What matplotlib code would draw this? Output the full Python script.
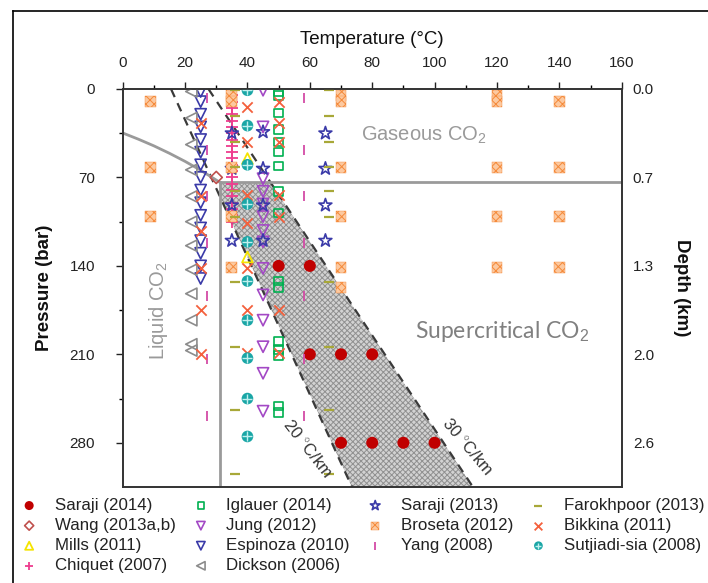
import numpy as np
import matplotlib.pyplot as plt
from matplotlib.patches import Polygon
from matplotlib.lines import Line2D
from matplotlib.legend_handler import HandlerTuple

plt.rcParams['font.family'] = ['Liberation Sans', 'DejaVu Sans']
plt.rcParams['mathtext.fontset'] = 'custom'
plt.rcParams['mathtext.rm'] = 'Liberation Sans'
plt.rcParams['hatch.linewidth'] = 0.7

# CO2 phase boundaries (temperature degC, pressure bar)
sat_T = [0, 5, 10, 15, 20, 25, 31.1]
sat_P = [34.8, 39.7, 45.0, 50.9, 57.3, 64.3, 73.8]
crit_T, crit_P = 31.1, 73.8

# geothermal gradients
grad20_T = [15.5, 73.5]
grad20_P = [0, 315]
grad30_T = [27.5, 112.3]
grad30_P = [0, 315]

# measurements
saraji14_T = [50, 60, 60, 70, 80, 70, 80, 90, 100]
saraji14_P = [140, 140, 210, 210, 210, 280, 280, 280, 280]

wang_T = [30]
wang_P = [70]

mills_T = [40, 40]
mills_P = [55, 133]

chiquet_P = [5, 10, 15, 20, 25, 30, 35, 40, 45, 50, 55, 60, 65, 70, 75, 80, 85, 90, 95, 100, 105]
chiquet_T = [35] * len(chiquet_P)

iglauer_P = [2, 5, 19, 32, 42, 50, 61, 81, 98, 152, 157, 200, 206, 211, 251, 256]
iglauer_T = [50] * len(iglauer_P)

jung_P = [1, 30, 71, 81, 91, 101, 112, 121, 142, 163, 183, 204, 225, 255]
jung_T = [45] * len(jung_P)

espinoza_P = [2, 10, 20, 30, 40, 50, 60, 70, 80, 90, 100, 110, 120, 130, 140, 150]
espinoza_T = [25] * len(espinoza_P)

dickson_P = [2, 23, 44, 64, 85, 105, 124, 143, 162, 183, 202, 207]
dickson_T = [22] * len(dickson_P)

saraji13_T = [35, 35, 35, 35, 45, 45, 45, 45, 65, 65, 65, 65]
saraji13_P = [35, 63, 92, 120, 34, 63, 92, 120, 35, 63, 92, 120]

broseta_T = [9, 9, 9, 35, 35, 35, 35, 35, 70, 70, 70, 70, 70, 70,
             120, 120, 120, 120, 120, 140, 140, 140, 140]
broseta_P = [10, 62, 101, 5, 10, 62, 101, 141, 5, 10, 62, 101, 141, 157,
             5, 10, 62, 101, 141, 10, 62, 101, 141]

yang_T = [27, 27, 27, 27, 27, 27, 27, 58, 58, 58, 58, 58, 58, 58]
yang_P = [7, 48, 85, 122, 164, 214, 259, 7, 48, 85, 122, 164, 214, 259]

farokh_T = [36] * 10 + [66] * 10
farokh_P = [1, 21, 42, 62, 81, 101, 153, 204, 254, 305] * 2

bikkina_T = [25, 25, 25, 25, 25, 25, 40, 40, 40, 40, 40, 40, 40, 50, 50, 50, 50, 50, 50, 50]
bikkina_P = [27, 85, 112, 142, 175, 210, 14, 42, 84, 106, 142, 175, 209, 10, 27, 42, 84, 101, 175, 209]

sutji_P = [1, 29, 60, 91, 121, 152, 183, 213, 245, 275]
sutji_T = [40] * len(sutji_P)

W, H = 708, 583
fig = plt.figure(figsize=(W / 100, H / 100), dpi=100)
ax = fig.add_axes([122.7 / W, 1 - 487 / H, (621.7 - 122.7) / W, (487 - 89) / H])
ax.set_xlim(0, 160)
ax.set_ylim(315, 0)

# shaded region between gradients in supercritical field
p_bot = 315
t2_top = np.interp(crit_P, grad30_P, grad30_T)
t2_bot = np.interp(p_bot, grad30_P, grad30_T)
t1_bot = np.interp(p_bot, grad20_P, grad20_T)
p1_cross = np.interp(crit_T, grad20_T, grad20_P)
poly = Polygon([(crit_T, crit_P), (t2_top, crit_P), (t2_bot, p_bot), (t1_bot, p_bot), (crit_T, p1_cross)],
               closed=True, facecolor='#d2d2d2', edgecolor='#909090', hatch='xxxxxx', lw=0, zorder=1)
ax.add_patch(poly)

ax.plot(grad20_T, grad20_P, color='#3a3a3a', lw=1.6, ls=(0, (4, 3)), zorder=2)
ax.plot(grad30_T, grad30_P, color='#3a3a3a', lw=1.6, ls=(0, (4, 3)), zorder=2)

gray = '#9a9a9a'
ax.plot(sat_T, sat_P, color=gray, lw=2, zorder=2)
ax.plot([crit_T, 160], [crit_P, crit_P], color=gray, lw=2, zorder=2)
ax.plot([crit_T, crit_T], [crit_P, 315], color=gray, lw=2, zorder=2)

handles = []
labels = []


def add(T, P, label, **kw):
    h = ax.scatter(T, P, zorder=3, **kw)
    handles.append(h)
    labels.append(label)
    return h


add(saraji14_T, saraji14_P, 'Saraji (2014)', marker='o', s=75, color='#c00000', edgecolors='none')
add(wang_T, wang_P, 'Wang (2013a,b)', marker='D', s=38, facecolors='none', edgecolors='#c0504d', linewidths=1.2)
add(mills_T, mills_P, 'Mills (2011)', marker='^', s=60, facecolors='none', edgecolors='#f5e400', linewidths=1.3)
add(chiquet_T, chiquet_P, 'Chiquet (2007)', marker='+', s=70, color='#ee3d8f', linewidths=1.3)
add(iglauer_T, iglauer_P, 'Iglauer (2014)', marker='s', s=38, facecolors='none', edgecolors='#00b050', linewidths=1.2)
add(jung_T, jung_P, 'Jung (2012)', marker='v', s=65, facecolors='none', edgecolors='#a349c5', linewidths=1.2)
add(espinoza_T, espinoza_P, 'Espinoza (2010)', marker='v', s=65, facecolors='none', edgecolors='#3a3aa8', linewidths=1.2)
add(dickson_T, dickson_P, 'Dickson (2006)', marker='<', s=65, facecolors='none', edgecolors='#8c8c8c', linewidths=1.2)
add(saraji13_T, saraji13_P, 'Saraji (2013)', marker='*', s=95, facecolors='none', edgecolors='#3a3aa8', linewidths=1.2)
add(broseta_T, broseta_P, 'Broseta (2012)', marker='s', s=60, facecolors='#fcc9a0', edgecolors='#f58a3a',
    hatch='xxxx', linewidths=0.3)
add(yang_T, yang_P, 'Yang (2008)', marker='|', s=60, color='#d34ba6', linewidths=1.3)
add(farokh_T, farokh_P, 'Farokhpoor (2013)', marker='_', s=60, color='#a8a838', linewidths=1.6)
add(bikkina_T, bikkina_P, 'Bikkina (2011)', marker='x', s=55, color='#f4603c', linewidths=1.3)
s1 = ax.scatter(sutji_T, sutji_P, marker='o', s=70, color='#1aa6a6', edgecolors='none', zorder=3)
s2 = ax.scatter(sutji_T, sutji_P, marker='+', s=45, color='#bff0ee', linewidths=1.0, zorder=3)
handles.append((s1, s2))
labels.append('Sutjiadi-sia (2008)')

# axes styling
ax.xaxis.tick_top()
ax.xaxis.set_label_position('top')
ax.set_xticks(np.arange(0, 161, 20))
ax.set_xticks(np.arange(10, 160, 20), minor=True)
ax.set_yticks([0, 70, 140, 210, 280])
ax.set_yticks([35, 105, 175, 245], minor=True)
ax.tick_params(which='major', length=5, width=1, labelsize=11, colors='#222222')
ax.tick_params(which='minor', length=3, width=1)
ax.tick_params(axis='x', pad=9)
ax.tick_params(axis='y', which='major', length=5, pad=15)
for sp in ax.spines.values():
    sp.set_linewidth(1.2)
    sp.set_color('#333333')
ax.set_xlabel('Temperature (°C)', fontsize=13.5, labelpad=8, color='#111111')
ax.set_ylabel('Pressure (bar)', fontsize=13.5, labelpad=12, fontweight='bold', color='#111111')

ax2 = ax.twinx()
ax2.set_ylim(315, 0)
ax2.set_yticks([0, 70, 140, 210, 280])
ax2.set_yticklabels(['0.0', '0.7', '1.3', '2.0', '2.6'])
ax2.tick_params(length=0, labelsize=11, pad=8, colors='#222222')
for sp in ax2.spines.values():
    sp.set_linewidth(1.2)
    sp.set_color('#333333')
ax2.set_ylabel('Depth (km)', fontsize=13.5, rotation=270, labelpad=26, fontweight='bold', color='#111111')

# region labels
ax.text(96.5, 37, 'Gaseous CO$_2$', fontsize=14.5, color='#9a9a9a', ha='center', va='center')
ax.text(121.5, 192, 'Supercritical CO$_2$', fontsize=16.5, color='#808080', ha='center', va='center',
        family='Lato')
ax.text(11.5, 175, 'Liquid CO$_2$', fontsize=14.5, color='#9a9a9a', rotation=90, ha='center', va='center')
ax.text(59, 285, '20 $^{\\circ}$C/km', fontsize=12, color='#333333', rotation=-52, ha='center', va='center')
ax.text(110.5, 283, '30 $^{\\circ}$C/km', fontsize=12, color='#333333', rotation=-50, ha='center', va='center')

# frame round the picture
fig.add_artist(Line2D([13 / W, 13 / W], [0, 1 - 11 / H], color='black', lw=1.2))
fig.add_artist(Line2D([13 / W, 1], [1 - 11 / H, 1 - 11 / H], color='black', lw=1.2))

fig.legend(handles, labels, ncol=4, loc='upper left', bbox_to_anchor=(19 / W, 1 - 498 / H),
           frameon=False, fontsize=12.2, handlelength=1.2, handletextpad=0.9, columnspacing=0.9,
           labelspacing=0.3, markerscale=0.75, borderaxespad=0, borderpad=0,
           handler_map={tuple: HandlerTuple(ndivide=1)}, labelcolor='#222222')

fig.savefig('out.png', dpi=100)
